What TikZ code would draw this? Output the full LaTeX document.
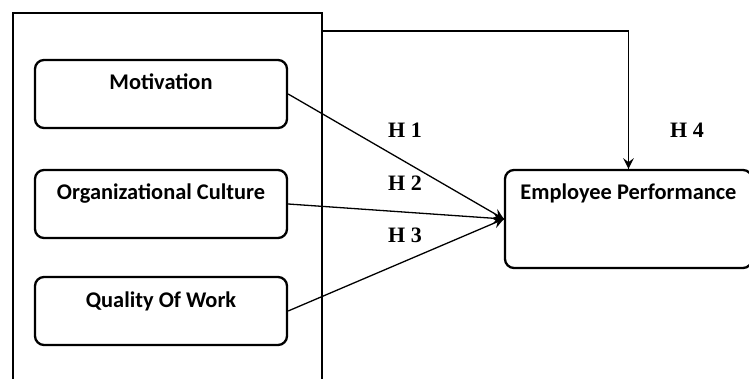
\documentclass[tikz,border=0pt]{standalone}
\usepackage{fontspec}
\setmainfont{Liberation Serif}
\setsansfont{Carlito}
\usetikzlibrary{arrows,decorations.markings}

\begin{document}
\begin{tikzpicture}[
  x=1pt, y=-1pt,
  every node/.style = {align=center, inner sep=0pt},
  VarBox/.style = {draw, line width=2.3pt, rounded corners=9pt, minimum width=252pt,
    minimum height=68pt, font=\sffamily\bfseries\fontsize{22.4}{26}\selectfont,
    text height=15pt, text depth=23pt},
  HypLabel/.style = {font=\bfseries\fontsize{22}{26}\selectfont}
  ]
  \clip (0,0) rectangle (749,379);
  \fill[white] (0,0) rectangle (749,379);

  % independent variables inside the frame
  \node[draw, line width=2.8pt, minimum width=309pt, minimum height=380pt] (frame) at (167.5,203) {};
  \node[VarBox] (mot) at (161,94) {Motivation};
  \node[VarBox] (org) at (161,204) {Organizational Culture};
  \node[VarBox] (qow) at (161,311) {Quality Of Work};

  % dependent variable
  \node[VarBox, minimum width=247pt, minimum height=98pt, text depth=53pt] (ep) at (628.5,219) {Employee Performance};

  \node[HypLabel] (h1) at (405,130) {H 1};
  \node[HypLabel] (h2) at (405,183) {H 2};
  \node[HypLabel] (h3) at (405,235) {H 3};
  \node[HypLabel] (h4) at (687,130) {H 4};

  \coordinate (s4) at (frame.east |- 0,31);

  \tikzset{EdgeRight/.style = {line width=1.3pt, decoration={markings,mark=at position 1 with
    {\arrow[scale=2,>=stealth]{>}}},postaction={decorate}}}

  \draw[EdgeRight] (mot.east) -- (ep.west);
  \draw[EdgeRight] (org.east) -- (ep.west);
  \draw[EdgeRight] (qow.east) -- (ep.west);
  \draw[EdgeRight] (s4) -| (ep.north);

\end{tikzpicture}
\end{document}
